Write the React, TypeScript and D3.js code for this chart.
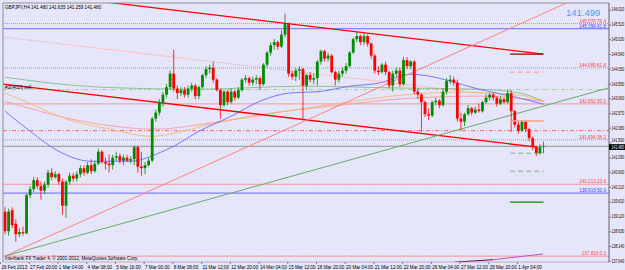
import React from "react";
import * as d3 from "d3";

const W = 625;
const H = 270;
const PL = 3, PR = 609, PT = 3, PB = 262;

// OHLC per H4 bar (index 0 = first visible bar)
const opens = [139.30,138.65,139.35,138.90,138.55,138.62,138.58,139.85,140.05,140.35,140.15,140.00,140.20,140.60,140.45,140.55,140.30,139.50,140.30,140.50,140.40,140.55,140.75,140.60,140.85,140.65,140.90,141.30,140.95,140.90,140.85,141.10,141.15,141.00,141.10,141.00,141.05,141.45,140.80,140.75,140.85,141.00,142.40,142.60,142.95,143.20,143.45,143.90,143.40,143.25,143.35,143.20,143.40,143.50,143.15,143.45,143.85,144.05,144.10,143.70,143.35,142.85,143.30,142.95,143.30,143.10,143.35,143.70,143.75,143.60,143.70,143.75,143.55,144.20,144.60,144.85,144.95,144.80,145.20,145.55,143.90,143.80,144.00,144.05,143.50,143.85,143.70,143.75,144.30,144.65,144.40,144.50,143.95,143.70,143.90,144.00,144.15,144.60,145.05,145.15,144.95,145.15,144.90,144.50,144.00,143.95,144.20,143.95,143.50,143.90,144.00,143.55,144.35,144.15,144.30,143.30,143.20,142.95,142.55,142.50,142.95,143.00,142.85,143.30,143.65,143.70,143.60,142.40,142.30,142.55,142.75,142.60,142.70,142.65,142.95,143.10,143.20,143.10,142.90,143.05,142.95,143.25,142.65,142.20,142.00,142.30,142.05,141.75,141.45,141.25,141.48];
const highs = [139.45,139.40,139.45,139.05,138.75,138.80,139.90,140.15,140.45,140.45,140.30,140.30,140.70,140.75,140.65,140.60,140.40,140.35,140.60,140.60,140.65,140.85,140.85,140.95,141.05,141.00,141.40,141.35,141.10,141.20,141.20,141.30,141.25,141.20,141.20,141.15,141.50,141.50,141.30,140.95,141.10,142.45,142.70,143.05,143.30,143.55,144.00,144.70,143.50,143.45,143.45,143.50,143.60,143.55,143.50,143.90,144.15,144.20,144.30,143.75,143.40,143.35,143.35,143.40,143.35,143.45,143.75,143.85,143.80,143.80,143.85,143.80,144.25,144.65,144.95,145.05,145.00,145.35,145.90,145.60,144.00,144.10,144.15,144.10,143.90,143.95,143.90,144.35,144.70,144.70,144.60,144.55,144.00,144.00,144.10,144.25,144.65,145.10,145.30,145.20,145.25,145.20,144.95,144.55,144.15,144.25,144.30,144.00,144.00,144.10,144.10,144.45,144.45,144.35,144.35,143.40,143.25,143.00,142.75,143.00,143.10,143.05,143.40,143.75,143.85,143.80,143.70,142.60,142.60,142.85,142.80,142.80,142.90,143.00,143.20,143.25,143.25,143.15,143.15,143.10,143.35,143.35,142.70,142.30,142.35,142.35,142.10,141.80,141.50,141.55,141.635];
const lows = [138.55,138.50,138.75,138.30,138.45,138.50,138.55,139.75,139.95,140.05,139.70,139.90,140.10,140.35,140.40,140.20,139.20,139.10,140.20,140.30,140.30,140.45,140.50,140.55,140.55,140.60,140.85,140.90,140.70,140.60,140.70,141.00,140.90,140.85,140.95,140.90,140.85,140.60,140.50,140.55,140.80,140.95,142.30,142.50,142.80,143.10,143.35,143.30,143.05,143.15,143.10,143.10,143.30,143.05,143.05,143.40,143.75,143.90,143.60,143.30,142.40,142.80,142.85,142.90,143.00,143.05,143.30,143.60,143.50,143.50,143.55,143.35,143.50,144.10,144.50,144.70,144.70,144.75,145.10,143.80,143.70,143.65,143.70,142.35,143.35,143.60,143.55,143.50,144.20,144.30,144.30,143.90,143.50,143.60,143.80,143.90,144.10,144.55,144.95,144.85,144.85,144.80,144.40,143.90,143.85,143.90,143.85,143.40,143.30,143.80,143.45,143.50,144.05,144.05,143.20,143.05,141.95,142.45,142.35,142.45,142.85,142.75,142.80,143.20,143.55,143.50,142.30,142.00,142.15,142.50,142.50,142.55,142.60,142.60,142.90,143.00,143.00,142.80,142.85,142.90,142.90,141.95,142.10,141.90,141.95,141.95,141.65,141.35,141.15,141.20,141.259];
const closes = [138.65,139.30,138.85,138.55,138.62,138.58,139.85,140.05,140.35,140.15,140.00,140.20,140.60,140.45,140.55,140.30,139.50,140.30,140.50,140.40,140.55,140.75,140.60,140.85,140.65,140.90,141.30,140.95,140.90,140.85,141.10,141.15,141.00,141.10,141.00,141.05,141.45,140.80,140.75,140.85,141.00,142.40,142.60,142.95,143.20,143.45,143.90,143.40,143.25,143.35,143.20,143.40,143.50,143.15,143.45,143.85,144.05,144.10,143.70,143.35,142.85,143.30,142.95,143.30,143.10,143.35,143.70,143.75,143.60,143.70,143.75,143.55,144.20,144.60,144.85,144.95,144.80,145.20,145.55,143.90,143.80,144.00,144.05,143.50,143.85,143.70,143.75,144.30,144.65,144.40,144.50,143.95,143.70,143.90,144.00,144.15,144.60,145.05,145.15,144.95,145.15,144.90,144.50,144.00,143.95,144.20,143.95,143.50,143.90,144.00,143.55,144.35,144.15,144.30,143.30,143.20,142.95,142.55,142.50,142.95,143.00,142.85,143.30,143.65,143.70,143.60,142.40,142.30,142.55,142.75,142.60,142.70,142.65,142.95,143.10,143.20,143.10,142.90,143.05,142.95,143.25,142.65,142.20,142.00,142.30,142.05,141.75,141.45,141.25,141.45,141.48];

const timeLabels = ["26 Feb 2013","27 Feb 20:00","1 Mar 04:00","4 Mar 08:00","5 Mar 16:00","7 Mar 00:00","8 Mar 08:00","11 Mar 12:00","12 Mar 20:00","14 Mar 04:00","15 Mar 12:00","18 Mar 20:00","20 Mar 04:00","21 Mar 12:00","22 Mar 20:00","26 Mar 04:00","27 Mar 12:00","28 Mar 20:00","1 Apr 04:00"];
const priceTicks = [146.02,145.52,145.03,144.54,144.05,143.55,143.06,142.57,142.08,141.59,141.09,140.60,140.11,139.62,139.12,138.63,138.14,137.64];

// moving averages, [bar index, price]
const maBlue: [number, number][] = [[0,142.65],[7,141.98],[15,141.31],[24,140.98],[35,140.98],[42,141.21],[47,141.48],[54,141.98],[63,142.48],[71,142.98],[79,143.25],[88,143.31],[96,143.48],[104,143.58],[113,143.88],[118,143.82],[124,143.65],[132,143.38],[141,143.15],[150,142.88]];
const maOrange: [number, number][] = [[0,143.25],[3.6,143.08],[17.3,142.38],[29.2,142.05],[41.2,141.81],[46.8,141.91],[57.1,142.21],[73,142.55],[91.4,142.88],[112.8,143.21],[126.7,143.28],[143.5,143.18],[150,142.98]];
const maPink: [number, number][] = [[0,142.98],[26.5,142.21],[41.8,142.05],[57.1,142.25],[73.8,142.58],[90.5,142.81],[112.8,143.08],[132.3,143.15],[150,142.98]];
const maGreen: [number, number][] = [[0,143.78],[26.5,143.45],[54.3,143.38],[82.2,143.48],[110,143.42],[132.3,143.38],[143.5,143.25],[150,142.98]];

// fibonacci levels
const fibPrices = [145.570,144.089,142.892,141.694,140.213,137.819];
const fibNames = ["76.4","61.8","50.0","38.2","23.6","0.0"];
const fibDotted = [true,true,false,true,false,false];
const bluePrices = [145.396,139.919];
const blueNames = ["61.8","50.0"];

const currentPrice = 141.48;
const orderPrice = 143.37;
const tpPrice = 142.0;

export default function App() {
  const x = d3.scaleLinear().domain([0, 150]).range([5, 543.5]);
  const y = d3.scaleLinear().domain([137.64, 146.02]).range([261.5, 10]);
  const line = d3.line<[number, number]>().x(d => x(d[0])).y(d => y(d[1])).curve(d3.curveMonotoneX);
  const straight = d3.line<[number, number]>().x(d => x(d[0])).y(d => y(d[1]));
  const font = "'Liberation Sans', Arial, sans-serif";
  const fs = 4.6;

  const trend = [
    { pts: [[25.6, 146.32], [149.9, 144.55]] as [number, number][], stroke: "#ff0000", w: 1.3, dash: undefined },
    { pts: [[-0.6, 143.55], [148.2, 141.45]] as [number, number][], stroke: "#ff0000", w: 1.3, dash: undefined },
    { pts: [[0, 137.82], [158.2, 146.35]] as [number, number][], stroke: "#ff8080", w: 1, dash: undefined },
    { pts: [[0, 137.82], [168, 143.42]] as [number, number][], stroke: "#6aaa6a", w: 1, dash: undefined },
    { pts: [[-0.6, 145.12], [150.4, 142.99]] as [number, number][], stroke: "#ff9090", w: 0.8, dash: "1 1" },
  ];

  const shorts = [
    { p: 144.55, stroke: "#a00000", w: 1.4, dash: undefined },
    { p: 143.95, stroke: "#ff8080", w: 0.8, dash: "5 3" },
    { p: 142.32, stroke: "#f4a080", w: 1.6, dash: undefined },
    { p: 141.25, stroke: "#60a060", w: 0.8, dash: "5 3" },
    { p: 140.65, stroke: "#60a060", w: 0.8, dash: "5 3" },
    { p: 139.62, stroke: "#009000", w: 1.3, dash: undefined },
  ];

  const yc = y(currentPrice);

  return (
    <div style={{ position: "absolute", left: 0, top: 0 }}>
      <svg width={W} height={H} style={{ display: "block" }}>
        <defs>
          <clipPath id="plot"><rect x={PL} y={PT} width={PR - PL} height={PB - PT} /></clipPath>
        </defs>
        <rect x={0} y={0} width={W} height={H} fill="#e6e6fa" />
        <g clipPath="url(#plot)">
          {/* grid */}
          {priceTicks.map((p, i) => (
            <line key={"gh" + i} x1={PL} x2={PR} y1={y(p)} y2={y(p)} stroke="#f2b8a8" strokeWidth={0.6} strokeDasharray="0.6 3.4" />
          ))}
          {timeLabels.map((t, i) => (
            <line key={"gv" + i} x1={x(i * 8) - 4.4} x2={x(i * 8) - 4.4} y1={PT} y2={PB} stroke="#f2b8a8" strokeWidth={0.6} strokeDasharray="0.6 3.4" />
          ))}
          {/* horizontal levels */}
          {fibPrices.map((p, i) => (
            <line key={"f" + i} x1={PL} x2={PR} y1={y(p)} y2={y(p)} stroke="#ff7070" strokeWidth={fibDotted[i] ? 0.9 : 0.8} strokeDasharray={fibDotted[i] ? "1 1" : undefined} opacity={fibDotted[i] ? 1 : 0.85} />
          ))}
          {bluePrices.map((p, i) => (
            <line key={"b" + i} x1={PL} x2={PR} y1={y(p)} y2={y(p)} stroke="#5a5aff" strokeWidth={0.9} />
          ))}
          <line x1={PL} x2={PR} y1={y(tpPrice)} y2={y(tpPrice)} stroke="#ff4040" strokeWidth={0.8} strokeDasharray="4 2 1 2" />
          <line x1={PL} x2={PR} y1={y(orderPrice)} y2={y(orderPrice)} stroke="#8fc88f" strokeWidth={0.8} strokeDasharray="4 2 1 2" />
          <line x1={PL} x2={PR} y1={yc} y2={yc} stroke="#909090" strokeWidth={1} />
          {/* moving averages */}
          <path d={line(maGreen) || ""} fill="none" stroke="#80c080" strokeWidth={0.9} />
          <path d={line(maPink) || ""} fill="none" stroke="#ff9a9a" strokeWidth={0.9} />
          <path d={line(maOrange) || ""} fill="none" stroke="#f5b870" strokeWidth={0.9} />
          <path d={line(maBlue) || ""} fill="none" stroke="#6a6aff" strokeWidth={0.9} />
          {/* trend lines */}
          {trend.map((t, i) => (
            <path key={"t" + i} d={straight(t.pts) || ""} fill="none" stroke={t.stroke} strokeWidth={t.w} strokeDasharray={t.dash} />
          ))}
          {/* candles */}
          {opens.map((o, i) => {
            const c = closes[i];
            const up = c >= o;
            const col = up ? "#008c00" : "#ff0000";
            const top = y(Math.max(o, c));
            const bot = y(Math.min(o, c));
            return (
              <g key={"c" + i}>
                <line x1={x(i)} x2={x(i)} y1={y(highs[i])} y2={y(lows[i])} stroke={col} strokeWidth={0.8} />
                <rect x={x(i) - 1.4} y={top} width={2.8} height={Math.max(0.8, bot - top)} fill={col} />
              </g>
            );
          })}
          {/* short objects on the right */}
          {shorts.map((s, i) => (
            <line key={"s" + i} x1={x(140.7)} x2={x(150)} y1={y(s.p)} y2={y(s.p)} stroke={s.stroke} strokeWidth={s.w} strokeDasharray={s.dash} />
          ))}
          <path d={straight([[125.3, 137.62], [136, 137.70]]) || ""} stroke="#700040" strokeWidth={1} fill="none" />
          <path d={straight([[136, 137.70], [149.9, 137.89]]) || ""} stroke="#c050c0" strokeWidth={1} fill="none" />
        </g>
        {/* frame */}
        <line x1={PL} x2={PR} y1={PT} y2={PT} stroke="#909090" strokeWidth={1} />
        <line x1={PL} x2={PL} y1={PT} y2={PB} stroke="#909090" strokeWidth={1} />
        <line x1={PR} x2={PR} y1={PT} y2={PB} stroke="#606060" strokeWidth={1} />
        <line x1={PL} x2={PR} y1={PB} y2={PB} stroke="#909090" strokeWidth={0.6} />
        {/* labels of levels */}
        {fibPrices.map((p, i) => (
          <text key={"fl" + i} x={PR - 3} y={y(p) - 1} fontSize={fs} fontFamily={font} fill="#ff4040" textAnchor="end">{p.toFixed(3) + " " + fibNames[i]}</text>
        ))}
        {bluePrices.map((p, i) => (
          <text key={"bl" + i} x={PR - 3} y={y(p) - 1} fontSize={fs} fontFamily={font} fill="#4040ff" textAnchor="end">{p.toFixed(3) + " " + blueNames[i]}</text>
        ))}
        {/* right axis */}
        {priceTicks.map((p, i) => {
          const near = Math.abs(y(p) - yc) < 5;
          const ty = y(p) + 1.4 - (near ? 1.9 : 0);
          return (
            <g key={"pt" + i}>
              <line x1={PR} x2={PR + 2} y1={y(p)} y2={y(p)} stroke="#404040" strokeWidth={0.6} />
              <text transform={`translate(${PR + 2.6},${ty}) scale(1,1.3)`} fontSize={3.45} fontFamily={font} fill="#000">{p.toFixed(3)}</text>
            </g>
          );
        })}
        <rect x={PR} y={yc - 2.1} width={W - PR} height={5.8} fill="#000" />
        <text transform={`translate(${PR + 2.6},${yc + 2.3}) scale(1,1.3)`} fontSize={3.45} fontFamily={font} fill="#fff">{currentPrice.toFixed(3)}</text>
        {/* time axis */}
        {timeLabels.map((t, i) => (
          <g key={"tl" + i}>
            <line x1={x(i * 8) - 4.4} x2={x(i * 8) - 4.4} y1={PB} y2={PB + 2} stroke="#404040" strokeWidth={0.6} />
            <text x={x(i * 8) - 3.6} y={PB + 6.5} fontSize={fs} fontFamily={font} fill="#000">{t}</text>
          </g>
        ))}
        {/* texts */}
        <text x={5} y={8.5} fontSize={fs} fontFamily={font} fill="#000">GBPJPY,H4  141.480 141.635 141.259 141.480</text>
        <text x={5} y={y(orderPrice) - 1} fontSize={fs} fontFamily={font} fill="#000">#204026 sell</text>
        <text x={5} y={260} fontSize={fs} fontFamily={font} fill="#000">Interbank FX Trader 4, © 2001-2012, MetaQuotes Software Corp.</text>
        <text x={566} y={16} fontSize={9.5} fontFamily={font} fill="#4d9cf0">141.499</text>
      </svg>
    </div>
  );
}
